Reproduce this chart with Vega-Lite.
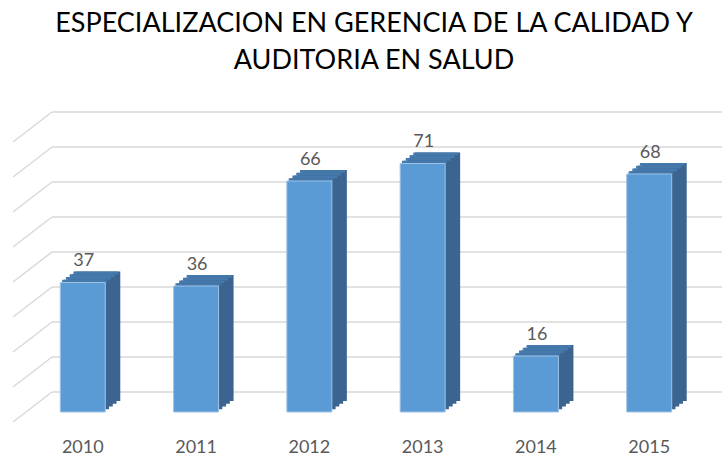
{
  "$schema": "https://vega.github.io/schema/vega-lite/v6.json",
  "autosize": {"type": "none"},
  "width": 706,
  "height": 280,
  "padding": {"left": 13, "top": 132, "right": 3, "bottom": 46},
  "background": "white",
  "title": {
    "text": ["ESPECIALIZACION EN GERENCIA DE LA CALIDAD Y", "AUDITORIA EN SALUD"],
    "font": "Lato",
    "fontSize": 27,
    "fontWeight": "normal",
    "color": "#000000",
    "lineHeight": 37,
    "anchor": "middle",
    "dx": 8,
    "offset": 36
  },
  "data": {"values": [
    {"year": "2010", "count": 37},
    {"year": "2011", "count": 36},
    {"year": "2012", "count": 66},
    {"year": "2013", "count": 71},
    {"year": "2014", "count": 16},
    {"year": "2015", "count": 68}
  ]},
  "config": {"view": {"stroke": null}},
  "encoding": {
    "x": {
      "field": "year", "type": "nominal",
      "scale": {"paddingInner": 0, "paddingOuter": 0.116},
      "axis": {
        "title": null, "domain": false, "ticks": false, "labelAngle": 0,
        "labelFont": "Lato", "labelFontSize": 18, "labelColor": "#595959",
        "labelPadding": 26, "labelDx": -11
      }
    },
    "y": {"field": "count", "type": "quantitative", "scale": {"domain": [0, 80], "nice": false}, "axis": null}
  },
  "layer": [
    {
      "data": {"values": [{"v": 0}, {"v": 10}, {"v": 20}, {"v": 30}, {"v": 40}, {"v": 50}, {"v": 60}, {"v": 70}, {"v": 80}]},
      "mark": {"type": "rule", "color": "#d9d9d9", "strokeWidth": 1.5, "yOffset": -20},
      "encoding": {
        "y": {"field": "v", "type": "quantitative"},
        "x": {"value": 39},
        "x2": {"value": 709}
      }
    },
    {
      "data": {"values": [{"v": 0}, {"v": 10}, {"v": 20}, {"v": 30}, {"v": 40}, {"v": 50}, {"v": 60}, {"v": 70}, {"v": 80}]},
      "mark": {"type": "rule", "color": "#d9d9d9", "strokeWidth": 1.5, "yOffset": 10, "y2Offset": -20},
      "encoding": {
        "y": {"field": "v", "type": "quantitative"},
        "y2": {"field": "v"},
        "x": {"value": 0},
        "x2": {"value": 39}
      }
    },
    {
      "mark": {"type": "bar", "size": 45, "color": "#3b6590", "xOffset": 15, "yOffset": -11, "y2Offset": -11},
      "encoding": {"y2": {"datum": 0}}
    },
    {
      "mark": {"type": "bar", "size": 45, "color": "#3b6590", "xOffset": 11.25, "yOffset": -8.25, "y2Offset": -8.25},
      "encoding": {"y2": {"datum": 0}}
    },
    {
      "mark": {"type": "bar", "size": 45, "color": "#3b6590", "xOffset": 7.5, "yOffset": -5.5, "y2Offset": -5.5},
      "encoding": {"y2": {"datum": 0}}
    },
    {
      "mark": {"type": "bar", "size": 45, "color": "#3b6590", "xOffset": 3.75, "yOffset": -2.75, "y2Offset": -2.75},
      "encoding": {"y2": {"datum": 0}}
    },
    {
      "mark": {"type": "bar", "size": 45, "color": "#4679ab", "xOffset": 1.875, "yOffset": -2.75, "y2Offset": 0},
      "encoding": {"y2": {"field": "count"}}
    },
    {
      "mark": {"type": "bar", "size": 45, "color": "#4679ab", "xOffset": 5.625, "yOffset": -5.5, "y2Offset": -2.75},
      "encoding": {"y2": {"field": "count"}}
    },
    {
      "mark": {"type": "bar", "size": 45, "color": "#4679ab", "xOffset": 9.375, "yOffset": -8.25, "y2Offset": -5.5},
      "encoding": {"y2": {"field": "count"}}
    },
    {
      "mark": {"type": "bar", "size": 45, "color": "#4679ab", "xOffset": 13.125, "yOffset": -11, "y2Offset": -8.25},
      "encoding": {"y2": {"field": "count"}}
    },
    {
      "mark": {"type": "bar", "size": 45, "color": "#5b9bd5", "stroke": "#9fc3e7", "strokeWidth": 1}
    },
    {
      "mark": {"type": "text", "font": "Lato", "fontSize": 18, "color": "#595959", "baseline": "alphabetic", "yOffset": -16.5, "dx": 1},
      "encoding": {"text": {"field": "count", "type": "quantitative"}}
    }
  ]
}
